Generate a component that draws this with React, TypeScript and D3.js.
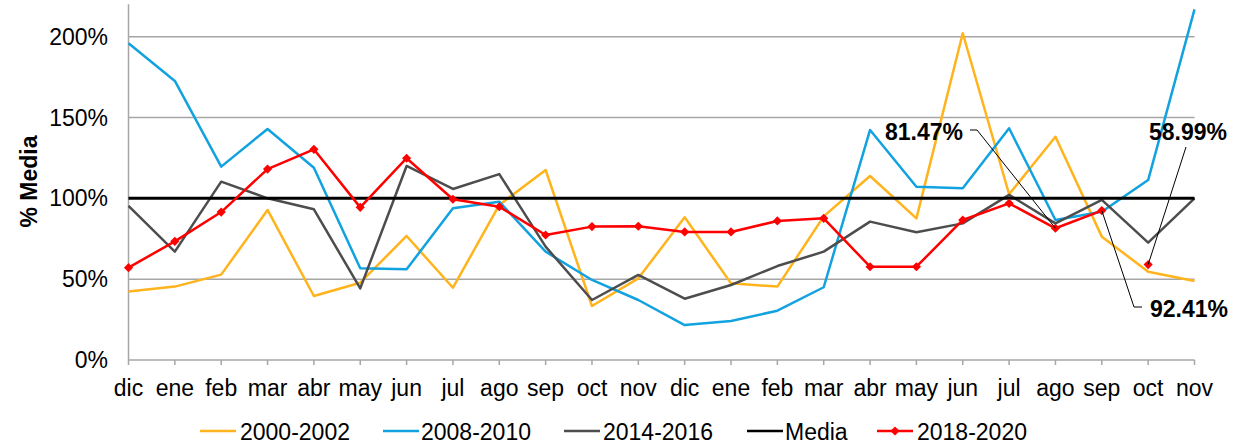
import React from 'react';
import * as d3 from 'd3';

// months along the x axis (two years, dic -> nov)
const months = ['dic', 'ene', 'feb', 'mar', 'abr', 'may', 'jun', 'jul', 'ago', 'sep', 'oct', 'nov',
  'dic', 'ene', 'feb', 'mar', 'abr', 'may', 'jun', 'jul', 'ago', 'sep', 'oct', 'nov'];

// % of the mean
const s2000 = [42.3, 45.4, 52.8, 92.8, 39.6, 47.8, 76.7, 44.7, 95.9, 117.5, 33.4, 50.5,
  88.3, 47.4, 45.4, 88.8, 113.8, 87.6, 202.1, 102.5, 138.1, 76.3, 54.6, 48.9];
const s2008 = [195.9, 172.6, 119.6, 142.9, 118.9, 56.7, 56.1, 93.8, 97.9, 67.0, 49.5, 37.1,
  21.6, 24.1, 30.5, 45.0, 142.3, 107.2, 106.2, 143.3, 86.6, 91.7, 111.3, 216.9];
const s2014 = [95.3, 67.0, 110.3, 100.0, 93.2, 44.3, 120.0, 105.8, 115.0, 70.1, 37.1, 52.6,
  37.9, 46.4, 58.1, 67.0, 85.6, 79.0, 84.5, 102.1, 84.5, 99.0, 72.6, 100.0];
const media = months.map(() => 100);
const s2018 = [57.1, 73.4, 91.5, 118.1, 130.3, 94.4, 124.8, 99.4, 94.8, 77.3, 82.5, 82.7,
  79.2, 79.2, 86.0, 87.6, 57.7, 57.7, 86.6, 96.9, 81.47, 92.41, null, null];
// last 2018-2020 reading, shown as a lone marker
const s2018Last = { index: 22, value: 58.99 };

const yTicks = [0, 50, 100, 150, 200];

const series = [
  { name: '2000-2002', values: s2000, color: '#FFB31C', width: 2.5, marker: false },
  { name: '2008-2010', values: s2008, color: '#12A2DF', width: 2.5, marker: false },
  { name: '2014-2016', values: s2014, color: '#4D4D4D', width: 2.5, marker: false },
  { name: 'Media', values: media, color: '#000000', width: 3, marker: false },
  { name: '2018-2020', values: s2018, color: '#FF0000', width: 2.5, marker: true },
];

// labelled points: index into s2018, label position, elbow
const callouts = [
  { index: 20, text: '81.47%', tx: 963, ty: 140, anchor: 'end', path: [[970, 130], [977, 130]] },
  { index: 22, text: '58.99%', tx: 1227, ty: 140, anchor: 'end', path: [[1186, 147]] },
  { index: 21, text: '92.41%', tx: 1228, ty: 317, anchor: 'end', path: [[1142, 307], [1134, 307]] },
];

const font = '"Liberation Sans", Arial, sans-serif';

export default function App() {
  const width = 1237;
  const height = 444;

  const x = d3.scalePoint<number>()
    .domain(d3.range(months.length))
    .range([128.5, 1194.5]);
  const y = d3.scaleLinear().domain([0, 220]).range([360, 4.3]);

  const line = d3.line<number | null>()
    .defined((d) => d != null)
    .x((_, i) => x(i) as number)
    .y((d) => y(d as number));

  const diamond = d3.symbol().type(d3.symbolSquare).size(42)();

  const legendItems = [
    { x0: 200, tx: 240 },
    { x0: 383, tx: 421 },
    { x0: 564, tx: 603 },
    { x0: 747, tx: 785 },
    { x0: 877, tx: 917 },
  ];

  const valueAt = (i: number) => (i === s2018Last.index ? s2018Last.value : (s2018[i] as number));

  return (
    <svg width={width} height={height} style={{ position: 'absolute', left: 0, top: 0, background: '#fff' }}
      fontFamily={font}>
      {/* gridlines */}
      {yTicks.filter((t) => t > 0).map((t) => (
        <line key={t} x1={x(0)} x2={x(months.length - 1)} y1={y(t)} y2={y(t)} stroke="#A6A6A6" strokeWidth={1.5} />
      ))}
      {/* axes */}
      <line x1={x(0)} x2={x(0)} y1={y(220)} y2={y(0)} stroke="#A6A6A6" strokeWidth={1.5} />
      <line x1={x(0)} x2={x(months.length - 1)} y1={y(0)} y2={y(0)} stroke="#A6A6A6" strokeWidth={1.5} />
      {months.map((m, i) => (
        <g key={i}>
          <line x1={x(i)} x2={x(i)} y1={y(0)} y2={y(0) + 5} stroke="#A6A6A6" strokeWidth={1.5} />
          <text x={x(i)} y={396} textAnchor="middle" fontSize={23} fill="#000">{m}</text>
        </g>
      ))}
      {yTicks.map((t) => (
        <text key={t} x={108} y={y(t)} dy="0.35em" textAnchor="end" fontSize={23} fill="#000">{t}%</text>
      ))}
      <text transform="translate(37,181.5) rotate(-90)" textAnchor="middle" fontSize={23} fontWeight="bold">% Media</text>

      {/* series */}
      {series.map((s) => (
        <path key={s.name} d={line(s.values) || ''} fill="none" stroke={s.color} strokeWidth={s.width}
          strokeLinejoin="round" />
      ))}
      {s2018.map((v, i) => (v == null ? null : (
        <path key={i} d={diamond} transform={`translate(${x(i)},${y(v)}) rotate(45)`} fill="#FF0000" />
      )))}
      <path d={diamond} transform={`translate(${x(s2018Last.index)},${y(s2018Last.value)}) rotate(45)`} fill="#FF0000" />

      {/* callouts */}
      {callouts.map((c) => {
        const pts = [...c.path, [x(c.index) as number, y(valueAt(c.index))]];
        return (
          <g key={c.text}>
            <path d={d3.line()(pts as [number, number][]) || ''} fill="none" stroke="#000" strokeWidth={1} />
            <text x={c.tx} y={c.ty} textAnchor={c.anchor as any} fontSize={23} fontWeight="bold">{c.text}</text>
          </g>
        );
      })}

      {/* legend */}
      {series.map((s, i) => (
        <g key={s.name}>
          <line x1={legendItems[i].x0} x2={legendItems[i].x0 + 36} y1={431} y2={431} stroke={s.color}
            strokeWidth={s.name === 'Media' ? 2.5 : 2.5} />
          {s.marker && (
            <path d={diamond} transform={`translate(${legendItems[i].x0 + 18},431) rotate(45)`} fill={s.color} />
          )}
          <text x={legendItems[i].tx} y={440} fontSize={23}>{s.name}</text>
        </g>
      ))}
    </svg>
  );
}
